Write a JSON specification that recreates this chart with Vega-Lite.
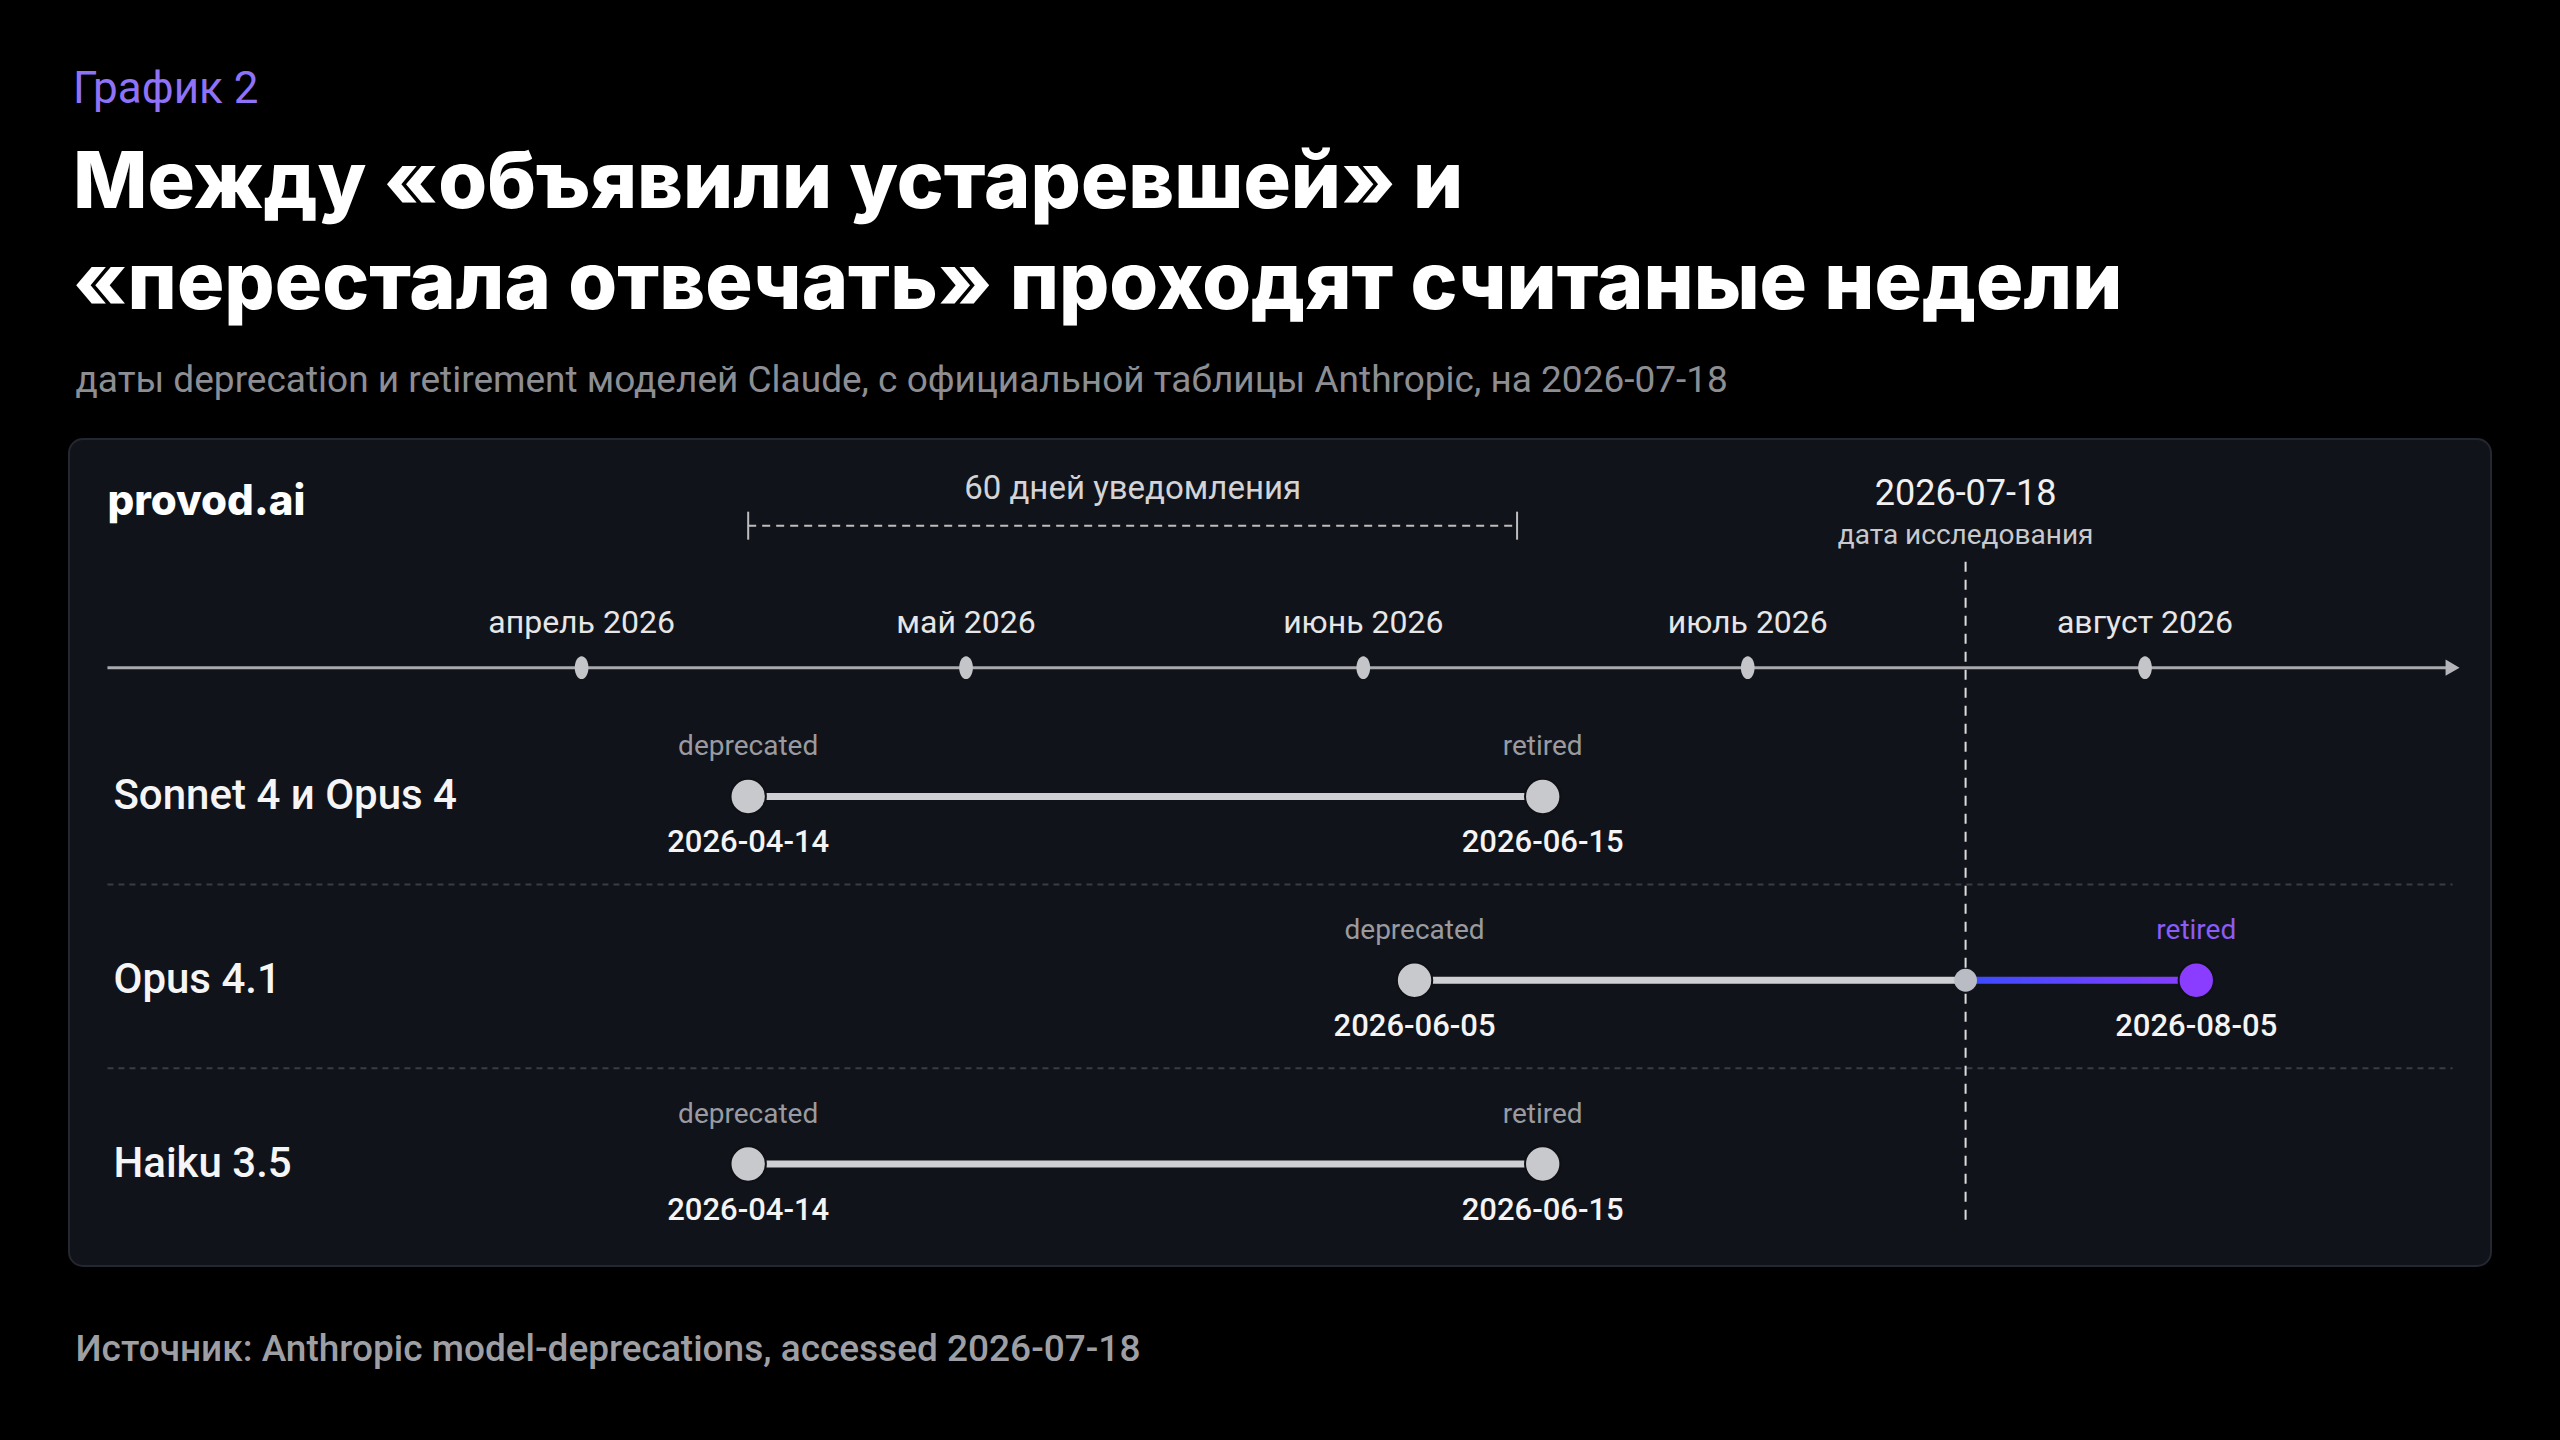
{
  "$schema": "https://vega.github.io/schema/vega-lite/v6.json",
  "width": 2560,
  "height": 1440,
  "autosize": {"type": "fit", "contains": "padding"},
  "padding": {"left": 69, "right": 69, "top": 68, "bottom": 73},
  "background": "#000000",
  "config": {
    "view": {"fill": "#11131a", "stroke": "#24272f", "strokeWidth": 2, "cornerRadius": 14},
    "font": "Roboto",
    "text": {"font": "Roboto"}
  },
  "title": {
    "text": "График 2",
    "subtitle": ["Между «объявили устаревшей» и", "«перестала отвечать» проходят считаные недели"],
    "anchor": "start",
    "frame": "group",
    "dx": 4,
    "color": "#8f72f7",
    "font": "Roboto",
    "fontSize": 44,
    "fontWeight": 400,
    "subtitleColor": "#ffffff",
    "subtitleFont": "Inter",
    "subtitleFontSize": 79,
    "subtitleFontWeight": 800,
    "subtitleLineHeight": 101,
    "subtitlePadding": 34,
    "offset": 36
  },
  "datasets": {
    "segments": [
      {"model": "Sonnet 4 и Opus 4", "start": "2026-04-14", "end": "2026-06-15", "phase": "прошло"},
      {"model": "Opus 4.1", "start": "2026-06-05", "end": "2026-07-18", "phase": "прошло"},
      {"model": "Opus 4.1", "start": "2026-07-18", "end": "2026-08-05", "phase": "впереди"},
      {"model": "Haiku 3.5", "start": "2026-04-14", "end": "2026-06-15", "phase": "прошло"}
    ],
    "events": [
      {"model": "Sonnet 4 и Opus 4", "date": "2026-04-14", "event": "deprecated", "status": "прошло"},
      {"model": "Sonnet 4 и Opus 4", "date": "2026-06-15", "event": "retired", "status": "прошло"},
      {"model": "Opus 4.1", "date": "2026-06-05", "event": "deprecated", "status": "прошло"},
      {"model": "Opus 4.1", "date": "2026-08-05", "event": "retired", "status": "впереди"},
      {"model": "Haiku 3.5", "date": "2026-04-14", "event": "deprecated", "status": "прошло"},
      {"model": "Haiku 3.5", "date": "2026-06-15", "event": "retired", "status": "прошло"}
    ],
    "months": [
      {"date": "2026-04-01", "label": "апрель 2026"},
      {"date": "2026-05-01", "label": "май 2026"},
      {"date": "2026-06-01", "label": "июнь 2026"},
      {"date": "2026-07-01", "label": "июль 2026"},
      {"date": "2026-08-01", "label": "август 2026"}
    ],
    "today": [{"date": "2026-07-18", "note": "дата исследования"}],
    "notice": [{"start": "2026-04-14", "mid": "2026-05-14", "end": "2026-06-13", "label": "60 дней уведомления"}],
    "timeline": [{"start": "2026-02-23", "end": "2026-08-25"}],
    "separators": [{"model": "Sonnet 4 и Opus 4"}, {"model": "Opus 4.1"}],
    "brand": [{"name": "provod.ai"}]
  },
  "resolve": {"axis": {"x": "independent"}},
  "layer": [
    {
      "data": {"name": "separators"},
      "mark": {"type": "rule", "color": "#3a3d46", "strokeWidth": 2, "strokeDash": [6, 5], "yOffset": 88},
      "encoding": {
        "x": {"datum": {"year": 2026, "month": 2, "date": 23, "utc": true}, "type": "temporal", "axis": null},
        "x2": {"datum": {"year": 2026, "month": 8, "date": 25, "utc": true}},
        "y": {"field": "model", "type": "nominal", "axis": null}
      }
    },
    {
      "data": {"name": "today"},
      "mark": {"type": "rule", "color": "#dcdcdc", "strokeWidth": 2, "strokeDash": [10, 8], "yOffset": -51, "y2Offset": 62},
      "encoding": {
        "x": {"field": "date", "type": "temporal", "axis": null},
        "y": {"datum": "шкала", "type": "nominal", "axis": null},
        "y2": {"datum": "Haiku 3.5"}
      }
    },
    {
      "data": {"name": "timeline"},
      "mark": {"type": "rule", "color": "#a8aaae", "strokeWidth": 3, "yOffset": 55},
      "encoding": {
        "x": {"field": "start", "type": "temporal", "axis": null},
        "x2": {"field": "end"},
        "y": {"datum": "шкала", "type": "nominal", "axis": null}
      }
    },
    {
      "data": {"name": "timeline"},
      "mark": {"type": "point", "shape": "triangle-right", "filled": true, "size": 260, "color": "#b4b5b9", "opacity": 1, "yOffset": 55},
      "encoding": {
        "x": {"field": "end", "type": "temporal", "axis": null},
        "y": {"datum": "шкала", "type": "nominal", "axis": null}
      }
    },
    {
      "data": {"name": "months"},
      "mark": {"type": "point", "shape": "M0,-1A0.6,1 0 1,1 0,1A0.6,1 0 1,1 0,-1Z", "filled": true, "size": 520, "color": "#c4c5c9", "opacity": 1, "yOffset": 55},
      "encoding": {
        "x": {"field": "date", "type": "temporal", "axis": null},
        "y": {"datum": "шкала", "type": "nominal", "axis": null}
      }
    },
    {
      "data": {"name": "months"},
      "mark": {"type": "text", "fontSize": 32, "color": "#e6e6e8", "baseline": "middle", "align": "center", "yOffset": 10},
      "encoding": {
        "x": {"field": "date", "type": "temporal", "axis": null},
        "y": {"datum": "шкала", "type": "nominal", "axis": null},
        "text": {"field": "label", "type": "nominal"}
      }
    },
    {
      "data": {"name": "brand"},
      "mark": {"type": "text", "font": "Inter", "fontSize": 42, "fontWeight": 800, "color": "#ffffff", "baseline": "middle", "align": "left", "yOffset": -111},
      "encoding": {
        "x": {"datum": {"year": 2026, "month": 2, "date": 23, "utc": true}, "type": "temporal", "axis": null},
        "y": {"datum": "шкала", "type": "nominal", "axis": null},
        "text": {"field": "name", "type": "nominal"}
      }
    },
    {
      "data": {"name": "notice"},
      "mark": {"type": "rule", "color": "#bdbdbf", "strokeWidth": 2, "strokeDash": [8, 6], "yOffset": -87},
      "encoding": {
        "x": {"field": "start", "type": "temporal", "axis": null},
        "x2": {"field": "end"},
        "y": {"datum": "шкала", "type": "nominal", "axis": null}
      }
    },
    {
      "data": {"name": "notice"},
      "mark": {"type": "tick", "color": "#bdbdbf", "thickness": 2, "size": 28, "yOffset": -87, "opacity": 1},
      "encoding": {
        "x": {"field": "start", "type": "temporal", "axis": null},
        "y": {"datum": "шкала", "type": "nominal", "axis": null}
      }
    },
    {
      "data": {"name": "notice"},
      "mark": {"type": "tick", "color": "#bdbdbf", "thickness": 2, "size": 28, "yOffset": -87, "opacity": 1},
      "encoding": {
        "x": {"field": "end", "type": "temporal", "axis": null},
        "y": {"datum": "шкала", "type": "nominal", "axis": null}
      }
    },
    {
      "data": {"name": "notice"},
      "mark": {"type": "text", "fontSize": 33, "color": "#d4d4d6", "baseline": "middle", "align": "center", "yOffset": -124},
      "encoding": {
        "x": {"field": "mid", "type": "temporal", "axis": null},
        "y": {"datum": "шкала", "type": "nominal", "axis": null},
        "text": {"field": "label", "type": "nominal"}
      }
    },
    {
      "data": {"name": "today"},
      "mark": {"type": "text", "fontSize": 36, "fontWeight": 400, "color": "#f0f0f2", "baseline": "middle", "align": "center", "yOffset": -119},
      "encoding": {
        "x": {"field": "date", "type": "temporal", "axis": null},
        "y": {"datum": "шкала", "type": "nominal", "axis": null},
        "text": {"field": "date", "timeUnit": "utcyearmonthdate", "type": "temporal", "format": "%Y-%m-%d"}
      }
    },
    {
      "data": {"name": "today"},
      "mark": {"type": "text", "fontSize": 28, "color": "#c9cacd", "baseline": "middle", "align": "center", "yOffset": -77},
      "encoding": {
        "x": {"field": "date", "type": "temporal", "axis": null},
        "y": {"datum": "шкала", "type": "nominal", "axis": null},
        "text": {"field": "note", "type": "nominal"}
      }
    },
    {
      "data": {"name": "segments"},
      "transform": [{"filter": "datum.phase === 'прошло'"}],
      "mark": {"type": "bar", "height": 7, "color": "#cfd0d3", "cornerRadius": 3.5},
      "encoding": {
        "x": {
          "field": "start", "type": "temporal",
          "scale": {"type": "utc", "domain": [{"year": 2026, "month": 2, "date": 20, "utc": true}, {"year": 2026, "month": 8, "date": 28, "utc": true}]},
          "axis": {"orient": "top", "title": "даты deprecation и retirement моделей Claude, с официальной таблицы Anthropic, на 2026-07-18", "labels": false, "ticks": false, "domain": false, "grid": false, "titleX": 6, "titleAlign": "left", "titleAnchor": "start", "titleFont": "Roboto", "titleFontSize": 37, "titleFontWeight": 400, "titleColor": "#8c8e94", "titlePadding": 40}
        },
        "x2": {"field": "end"},
        "y": {
          "field": "model", "type": "nominal",
          "scale": {"type": "point", "domain": ["шкала", "Sonnet 4 и Opus 4", "Opus 4.1", "Haiku 3.5"], "padding": 0.75, "align": 0.63},
          "axis": null
        }
      }
    },
    {
      "data": {"name": "segments"},
      "transform": [{"filter": "datum.phase === 'впереди'"}],
      "mark": {"type": "bar", "height": 7, "cornerRadius": 3.5, "color": {"gradient": "linear", "x1": 0, "x2": 1, "y1": 0, "y2": 0, "stops": [{"offset": 0, "color": "#3a4cff"}, {"offset": 1, "color": "#8a3cff"}]}},
      "encoding": {
        "x": {"field": "start", "type": "temporal", "axis": null},
        "x2": {"field": "end"},
        "y": {"field": "model", "type": "nominal", "axis": null}
      }
    },
    {
      "data": {"name": "segments"},
      "transform": [{"filter": "datum.phase === 'впереди'"}],
      "mark": {"type": "circle", "size": 520, "color": "#b9bcc5", "opacity": 1},
      "encoding": {
        "x": {"field": "start", "type": "temporal", "axis": null},
        "y": {"field": "model", "type": "nominal", "axis": null}
      }
    },
    {
      "data": {"name": "events"},
      "transform": [{"filter": "datum.event === 'deprecated'"}],
      "mark": {"type": "text", "fontSize": 42, "fontWeight": 500, "color": "#f5f5f6", "baseline": "middle", "align": "left", "dx": 6},
      "encoding": {
        "x": {"datum": {"year": 2026, "month": 2, "date": 23, "utc": true}, "type": "temporal", "axis": null},
        "y": {"field": "model", "type": "nominal", "axis": null},
        "text": {"field": "model", "type": "nominal"}
      }
    },
    {
      "data": {"name": "events"},
      "mark": {"type": "circle", "size": 1250, "opacity": 1, "stroke": "#0e1016", "strokeWidth": 2},
      "encoding": {
        "x": {"field": "date", "type": "temporal", "axis": {"orient": "bottom", "title": "Источник: Anthropic model-deprecations, accessed 2026-07-18", "labels": false, "ticks": false, "domain": false, "grid": false, "titleX": 6, "titleAlign": "left", "titleAnchor": "start", "titleFont": "Roboto", "titleFontSize": 37, "titleFontWeight": 500, "titleColor": "#9d9fa4", "titlePadding": 65}},
        "y": {"field": "model", "type": "nominal", "axis": null},
        "color": {"condition": {"test": "datum.status === 'впереди'", "value": "#8b3dff"}, "value": "#c8c9cc"}
      }
    },
    {
      "data": {"name": "events"},
      "mark": {"type": "text", "fontSize": 28, "baseline": "middle", "align": "center", "yOffset": -49},
      "encoding": {
        "x": {"field": "date", "type": "temporal", "axis": null},
        "y": {"field": "model", "type": "nominal", "axis": null},
        "text": {"field": "event", "type": "nominal"},
        "color": {"condition": {"test": "datum.status === 'впереди'", "value": "#8b5cf6"}, "value": "#9a9ba0"}
      }
    },
    {
      "data": {"name": "events"},
      "mark": {"type": "text", "fontSize": 31, "fontWeight": 500, "color": "#f4f4f5", "baseline": "middle", "align": "center", "yOffset": 47},
      "encoding": {
        "x": {"field": "date", "type": "temporal", "axis": null},
        "y": {"field": "model", "type": "nominal", "axis": null},
        "text": {"field": "date", "timeUnit": "utcyearmonthdate", "type": "temporal", "format": "%Y-%m-%d"}
      }
    }
  ]
}
